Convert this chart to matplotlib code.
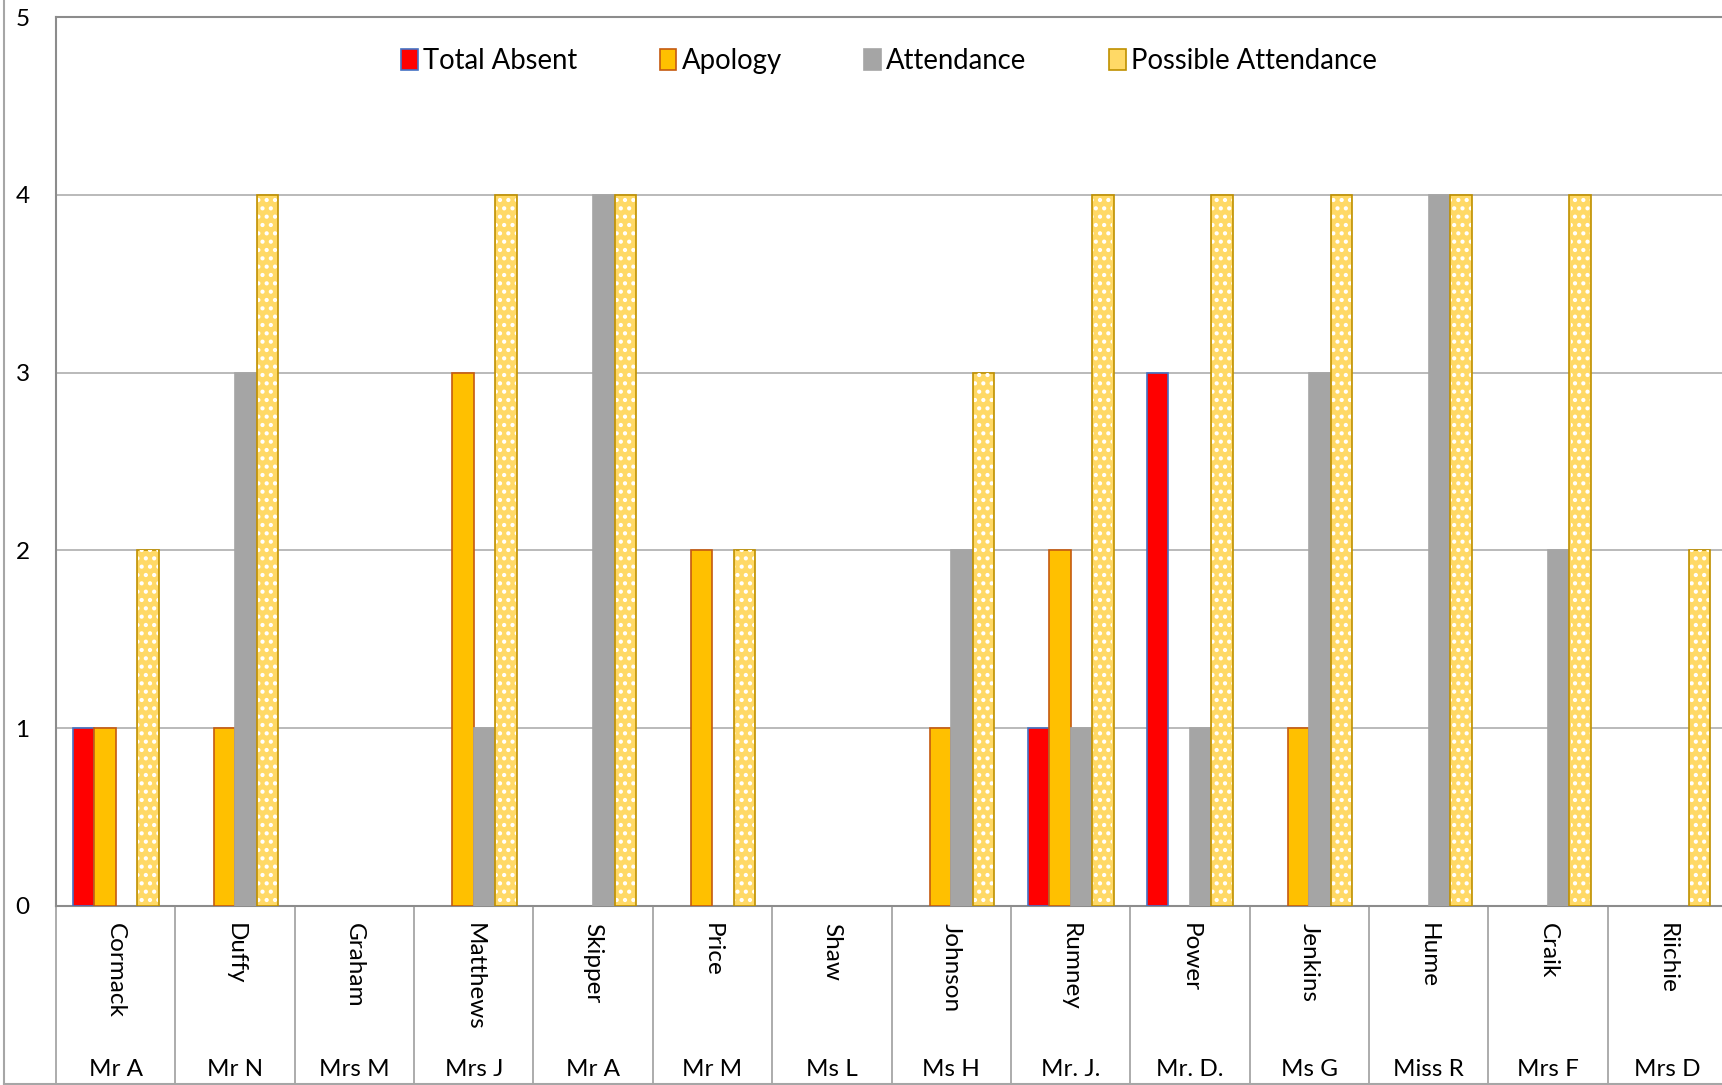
import matplotlib
matplotlib.use("Agg")
import matplotlib.pyplot as plt
import numpy as np
from matplotlib.patches import Patch
from matplotlib.lines import Line2D

plt.rcParams['font.family'] = ['Lato', 'DejaVu Sans']

surnames = ["Cormack", "Duffy", "Graham", "Matthews", "Skipper", "Price", "Shaw",
            "Johnson", "Rumney", "Power", "Jenkins", "Hume", "Craik", "Riichie"]
titles = ["Mr A", "Mr N", "Mrs M", "Mrs J", "Mr A", "Mr M", "Ms L",
          "Ms H", "Mr. J.", "Mr. D.", "Ms G", "Miss R", "Mrs F", "Mrs D"]
total_absent = [1, 0, 0, 0, 0, 0, 0, 0, 1, 3, 0, 0, 0, 0]
apology = [1, 1, 0, 3, 0, 2, 0, 1, 2, 0, 1, 0, 0, 0]
attendance = [0, 3, 0, 1, 4, 0, 0, 2, 1, 1, 3, 4, 2, 0]
possible = [2, 4, 0, 4, 4, 2, 0, 3, 4, 4, 4, 4, 4, 2]
series_names = ["Total Absent", "Apology", "Attendance", "Possible Attendance"]
yticks = [0, 1, 2, 3, 4, 5]

W, H = 1722, 1085
fig = plt.figure(figsize=(W / 100, H / 100), dpi=100)
ax_left, ax_right, ax_top, ax_bot = 56, 1727, 17, 906
ax = fig.add_axes([ax_left / W, 1 - ax_bot / H, (ax_right - ax_left) / W, (ax_bot - ax_top) / H])

x = np.arange(len(surnames))
bw = 0.18
face = ["#FF0000", "#FFC000", "#A5A5A5", "#FFD966"]
edge = ["#4472C4", "#C55A11", "#A5A5A5", "#BF9000"]
data = [total_absent, apology, attendance, possible]
plt.rcParams['hatch.linewidth'] = 1.8
for i, vals in enumerate(data):
    xs = x + (i - 1.5) * bw
    lws = [1.2 if v > 0 else 0 for v in vals]
    ax.bar(xs, vals, width=bw, color=face[i], edgecolor=edge[i], linewidth=lws, zorder=3)
    if i == 3:
        ax.bar(xs, vals, width=bw * 0.9, facecolor='none', edgecolor='white', hatch='..',
               linewidth=0, zorder=4)

ax.set_xlim(-0.5, len(surnames) - 0.5)
ax.set_ylim(0, 5)
ax.set_yticks(yticks)
ax.set_yticklabels([str(t) for t in yticks], fontsize=17.5)
ax.tick_params(axis='y', length=0, pad=19)
ax.set_xticks([])
ax.grid(axis='y', color='#B4B4B4', linewidth=1.3, zorder=0)
for s in ['left', 'top']:
    ax.spines[s].set_color('#8C8C8C')
    ax.spines[s].set_linewidth(1.5)
ax.spines['right'].set_visible(False)
ax.spines['bottom'].set_color('#8C8C8C')
ax.spines['bottom'].set_linewidth(1.5)
ax.set_facecolor('white')

# multi-level category table
ph = ax_bot - ax_top
tbl_bottom = -(1084 - ax_bot) / ph
trans = ax.get_xaxis_transform()
for k in range(len(surnames) + 1):
    ax.add_line(Line2D([k - 0.5, k - 0.5], [0, tbl_bottom], transform=trans,
                       color='#A6A6A6', linewidth=1.3, clip_on=False))
for i in range(len(surnames)):
    ax.text(i, -(923 - ax_bot) / ph, surnames[i], transform=trans, rotation=270,
            ha='center', va='top', fontsize=17.5, clip_on=False)
    ax.text(i, -(1070 - ax_bot) / ph, titles[i], transform=trans,
            ha='center', va='center', fontsize=17.5, clip_on=False)

# chart-area border lines
fig.add_artist(Line2D([4 / W, 4 / W], [0, 1], color='#A6A6A6', linewidth=1.5))
fig.add_artist(Line2D([4 / W, 1], [1 - 1084 / H, 1 - 1084 / H], color='#A6A6A6', linewidth=1.5))

handles = [Patch(facecolor=face[i], edgecolor=edge[i], linewidth=1.2) for i in range(4)]
leg = fig.legend(handles, series_names, loc='center', bbox_to_anchor=(889 / W, 1 - 61 / H),
                 ncol=4, frameon=False, fontsize=19.8, handlelength=0.6, handleheight=0.85,
                 handletextpad=0.2, columnspacing=3.0)

fig.savefig("out.png", dpi=100)
